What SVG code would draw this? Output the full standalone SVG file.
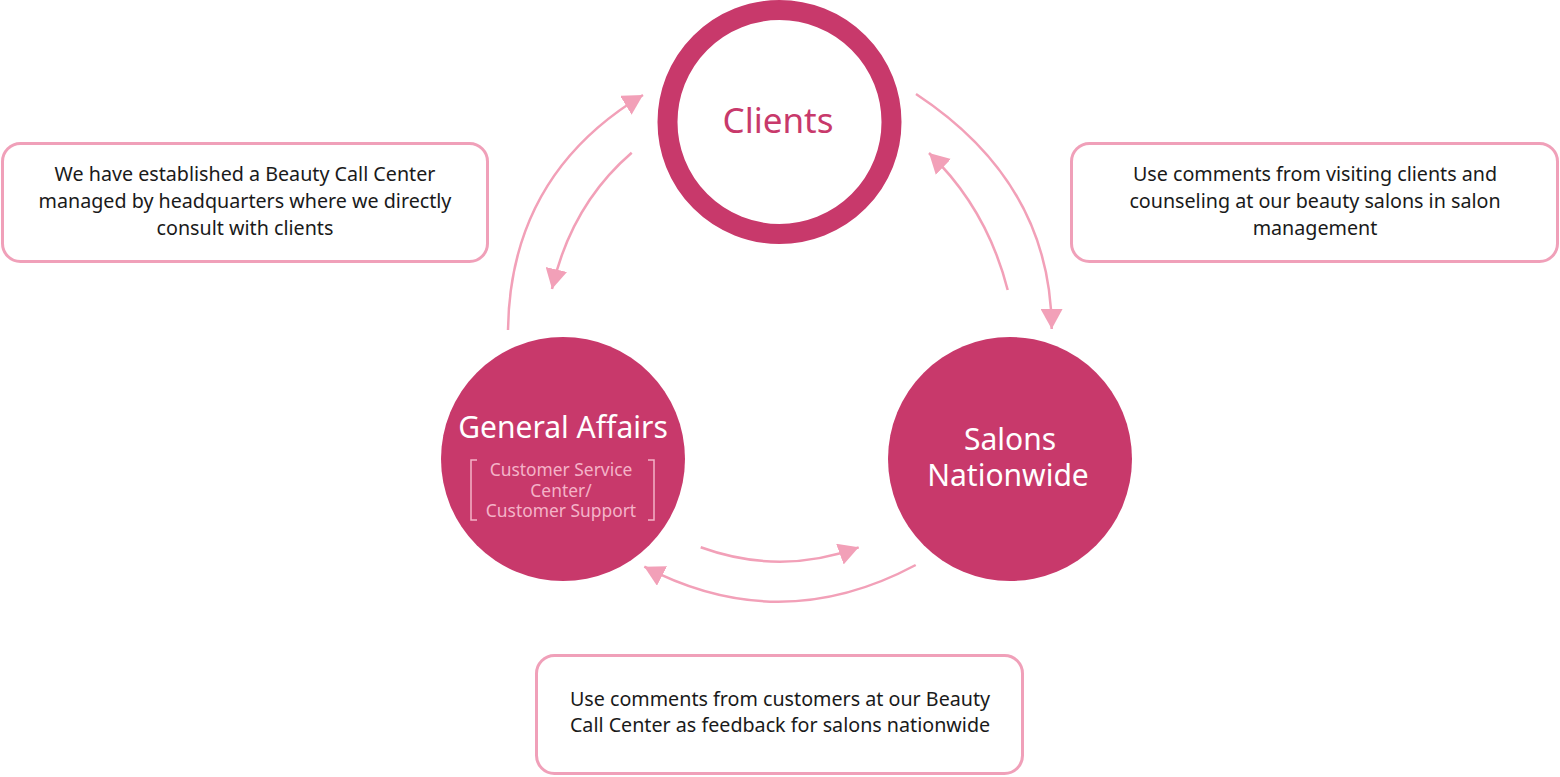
<svg xmlns="http://www.w3.org/2000/svg" width="1560" height="777" viewBox="0 0 1560 777">
<style>
.box{fill:#fff;stroke:#f0a0b9;stroke-width:3}
.bt{font-family:"Noto Sans","Liberation Sans",sans-serif;font-size:19.7px;fill:#1a1a1a;text-anchor:middle}
.conn{fill:none;stroke:#f2a0b8;stroke-width:2.5}
.big{font-family:"Noto Sans","Liberation Sans",sans-serif;font-size:30px;fill:#fff;text-anchor:middle}
.sub{font-family:"Noto Sans","Liberation Sans",sans-serif;font-size:17.4px;fill:#f4b3c8;text-anchor:middle}
</style>
<defs>
<marker id="ah" viewBox="0 0 20 22" refX="20" refY="11" markerWidth="20" markerHeight="22" markerUnits="userSpaceOnUse" orient="auto">
<path d="M0,0 L20,11 L0,22 z" fill="#f2a0b8"/>
</marker>
</defs>
<rect width="1560" height="777" fill="#fff"/>
<g id="connectors">
<path class="conn" d="M508,330 Q510,175 643,95" marker-end="url(#ah)"/>
<path class="conn" d="M631.7,152.7 Q571,205 552,289" marker-end="url(#ah)"/>
<path class="conn" d="M916,94 Q1051,183 1051.7,329" marker-end="url(#ah)"/>
<path class="conn" d="M1007.7,290 Q987,208.7 929,153" marker-end="url(#ah)"/>
<path class="conn" d="M700.7,547.3 Q780,576 858.7,547.3" marker-end="url(#ah)"/>
<path class="conn" d="M915.7,565 Q780,637.6 644.3,566.7" marker-end="url(#ah)"/>
</g>
<g id="clients">
<circle cx="779.5" cy="122" r="112" fill="#fff" stroke="#c8396b" stroke-width="20"/>
<text x="778" y="133" font-family="Noto Sans, Liberation Sans, sans-serif" font-size="35" fill="#c8396b" text-anchor="middle">Clients</text>
</g>
<g id="general-affairs">
<circle cx="563" cy="459" r="122" fill="#c8396b"/>
<text class="big" x="563" y="438">General Affairs</text>
<path d="M477,460 H471 V520 H477 M648,460 H654 V520 H648" fill="none" stroke="#f4b3c8" stroke-width="1.5"/>
<text class="sub" x="561" y="476">Customer Service</text>
<text class="sub" x="561" y="497">Center/</text>
<text class="sub" x="561" y="517">Customer Support</text>
</g>
<g id="salons">
<circle cx="1010" cy="459" r="122" fill="#c8396b"/>
<text class="big" x="1010" y="450">Salons</text>
<text class="big" x="1008" y="486">Nationwide</text>
</g>
<g id="box-left">
<rect class="box" x="2.5" y="143.5" width="485" height="118" rx="18"/>
<text class="bt" x="245" y="181">We have established a Beauty Call Center</text>
<text class="bt" x="245" y="208">managed by headquarters where we directly</text>
<text class="bt" x="245" y="235">consult with clients</text>
</g>
<g id="box-right">
<rect class="box" x="1071.5" y="143.5" width="486" height="118" rx="18"/>
<text class="bt" x="1315" y="181">Use comments from visiting clients and</text>
<text class="bt" x="1315" y="208">counseling at our beauty salons in salon</text>
<text class="bt" x="1315" y="235">management</text>
</g>
<g id="box-bottom">
<rect class="box" x="536.5" y="655.5" width="486" height="118" rx="18"/>
<text class="bt" x="780" y="706">Use comments from customers at our Beauty</text>
<text class="bt" x="780" y="732">Call Center as feedback for salons nationwide</text>
</g>
</svg>
